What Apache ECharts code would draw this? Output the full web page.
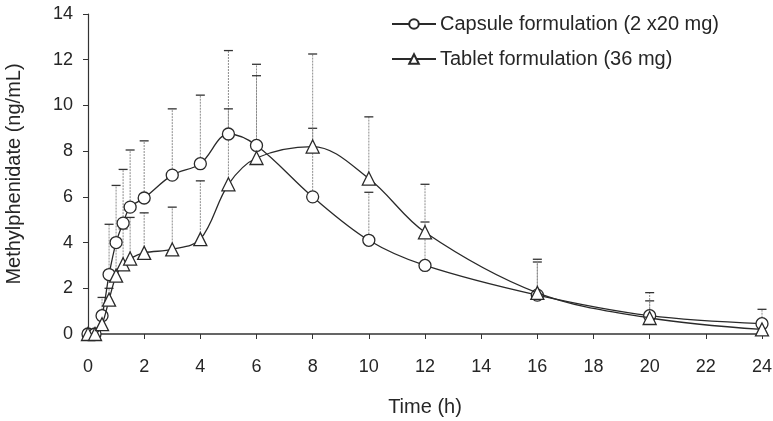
<!DOCTYPE html>
<html>
<head>
<meta charset="utf-8">
<script src="https://cdn.jsdelivr.net/npm/echarts@6/dist/echarts.min.js"></script>
<style>
  html, body { margin: 0; padding: 0; background: #fff; }
  #chart { width: 773px; height: 421px; }
</style>
</head>
<body>
<div id="chart"></div>
<script>
// Sampling times (h)
const timeH = [0, 0.25, 0.5, 0.75, 1, 1.25, 1.5, 2, 3, 4, 5, 6, 8, 10, 12, 16, 20, 24];

// Capsule formulation (2 x 20 mg): mean and mean + SD (ng/mL)
const capsuleMean  = [0, 0, 0.8, 2.6, 4.0, 4.85, 5.55, 5.95, 6.95, 7.45, 8.75, 8.25, 6.0, 4.1, 3.0, 1.7, 0.8, 0.45];
const capsuleUpper = [0, 0, 1.6, 4.8, 6.5, 7.2, 8.05, 8.45, 9.85, 10.45, 12.4, 11.8, 9.0, 6.2, 4.9, 3.15, 1.45, 1.08];

// Tablet formulation (36 mg): mean and mean + SD (ng/mL)
const tabletMean  = [0, 0, 0.43, 1.5, 2.55, 3.05, 3.3, 3.55, 3.7, 4.15, 6.55, 7.7, 8.2, 6.8, 4.45, 1.8, 0.7, 0.2];
const tabletUpper = [0, 0, 0.9, 2.0, 3.9, 4.6, 5.1, 5.3, 5.55, 6.7, 9.85, 11.3, 12.25, 9.5, 6.55, 3.27, 1.81, 0.6];

const capsuleName = 'Capsule formulation (2 x20 mg)';
const tabletName = 'Tablet formulation (36 mg)';

const FONT = '"Liberation Sans", Arial, sans-serif';
const INK = '#262626';

function pairs(xs, ys) { return xs.map((x, i) => [x, ys[i]]); }
function bars(xs, mean, upper) {
  return xs.map((x, i) => [x, mean[i], upper[i]]).filter(d => d[2] > d[1]);
}

// Upward SD bars: dotted grey stem with a dark cap
function renderErrorBar(params, api) {
  const x = api.value(0);
  const p0 = api.coord([x, api.value(1)]);
  const p1 = api.coord([x, api.value(2)]);
  return {
    type: 'group',
    children: [
      { type: 'line', shape: { x1: p0[0], y1: p0[1], x2: p1[0], y2: p1[1] },
        style: { stroke: '#8c8c8c', lineWidth: 1, lineDash: [2, 1] } },
      { type: 'line', shape: { x1: p1[0] - 4.5, y1: p1[1], x2: p1[0] + 4.5, y2: p1[1] },
        style: { stroke: '#333', lineWidth: 1.3 } }
    ]
  };
}

const chart = echarts.init(document.getElementById('chart'), null, { renderer: 'canvas' });

chart.setOption({
  animation: false,
  backgroundColor: '#fff',
  textStyle: { fontFamily: FONT, color: INK },
  grid: { left: 88, right: 11, top: 14, bottom: 87, containLabel: false, outerBoundsMode: 'none' },
  legend: {
    orient: 'vertical',
    left: 386,
    top: 9,
    itemWidth: 44,
    itemHeight: 12,
    itemGap: 15,
    data: [capsuleName, tabletName],
    textStyle: { fontFamily: FONT, fontSize: 20, color: INK, padding: [0, 0, 0, -1] }
  },
  xAxis: {
    type: 'value',
    min: 0, max: 24, interval: 2,
    name: 'Time (h)',
    nameLocation: 'middle',
    nameGap: 63,
    nameTextStyle: { fontFamily: FONT, fontSize: 20, color: INK },
    axisLine: { lineStyle: { color: '#333', width: 1.5 } },
    axisTick: { show: true, inside: false, length: 5, lineStyle: { color: '#333' } },
    axisLabel: { fontFamily: FONT, fontSize: 18, color: INK, margin: 24 },
    splitLine: { show: false }
  },
  yAxis: {
    type: 'value',
    min: 0, max: 14, interval: 2,
    name: 'Methylphenidate (ng/mL)',
    nameLocation: 'middle',
    nameGap: 64,
    nameRotate: 90,
    nameTextStyle: { fontFamily: FONT, fontSize: 20, color: INK },
    axisLine: { show: true, lineStyle: { color: '#333', width: 1.2 } },
    axisTick: { show: true, inside: false, length: 5, lineStyle: { color: '#333' } },
    axisLabel: { fontFamily: FONT, fontSize: 18, color: INK, margin: 15 },
    splitLine: { show: false }
  },
  series: [
    {
      type: 'custom',
      name: 'capsuleSD',
      renderItem: renderErrorBar,
      data: bars(timeH, capsuleMean, capsuleUpper),
      encode: { x: 0, y: [1, 2] },
      z: 1,
      silent: true
    },
    {
      type: 'custom',
      name: 'tabletSD',
      renderItem: renderErrorBar,
      data: bars(timeH, tabletMean, tabletUpper),
      encode: { x: 0, y: [1, 2] },
      z: 1,
      silent: true
    },
    {
      type: 'line',
      name: capsuleName,
      data: pairs(timeH, capsuleMean),
      smooth: 0.35,
      symbol: 'circle',
      symbolSize: 12,
      showAllSymbol: true,
      lineStyle: { color: '#2a2a2a', width: 1.3 },
      itemStyle: { color: '#fff', borderColor: '#2a2a2a', borderWidth: 1.3 },
      z: 3
    },
    {
      type: 'line',
      name: tabletName,
      data: pairs(timeH, tabletMean),
      smooth: 0.35,
      symbol: 'triangle',
      symbolSize: 13,
      showAllSymbol: true,
      lineStyle: { color: '#2a2a2a', width: 1.3 },
      itemStyle: { color: '#fff', borderColor: '#2a2a2a', borderWidth: 1.3 },
      z: 4
    }
  ]
});
</script>
</body>
</html>
